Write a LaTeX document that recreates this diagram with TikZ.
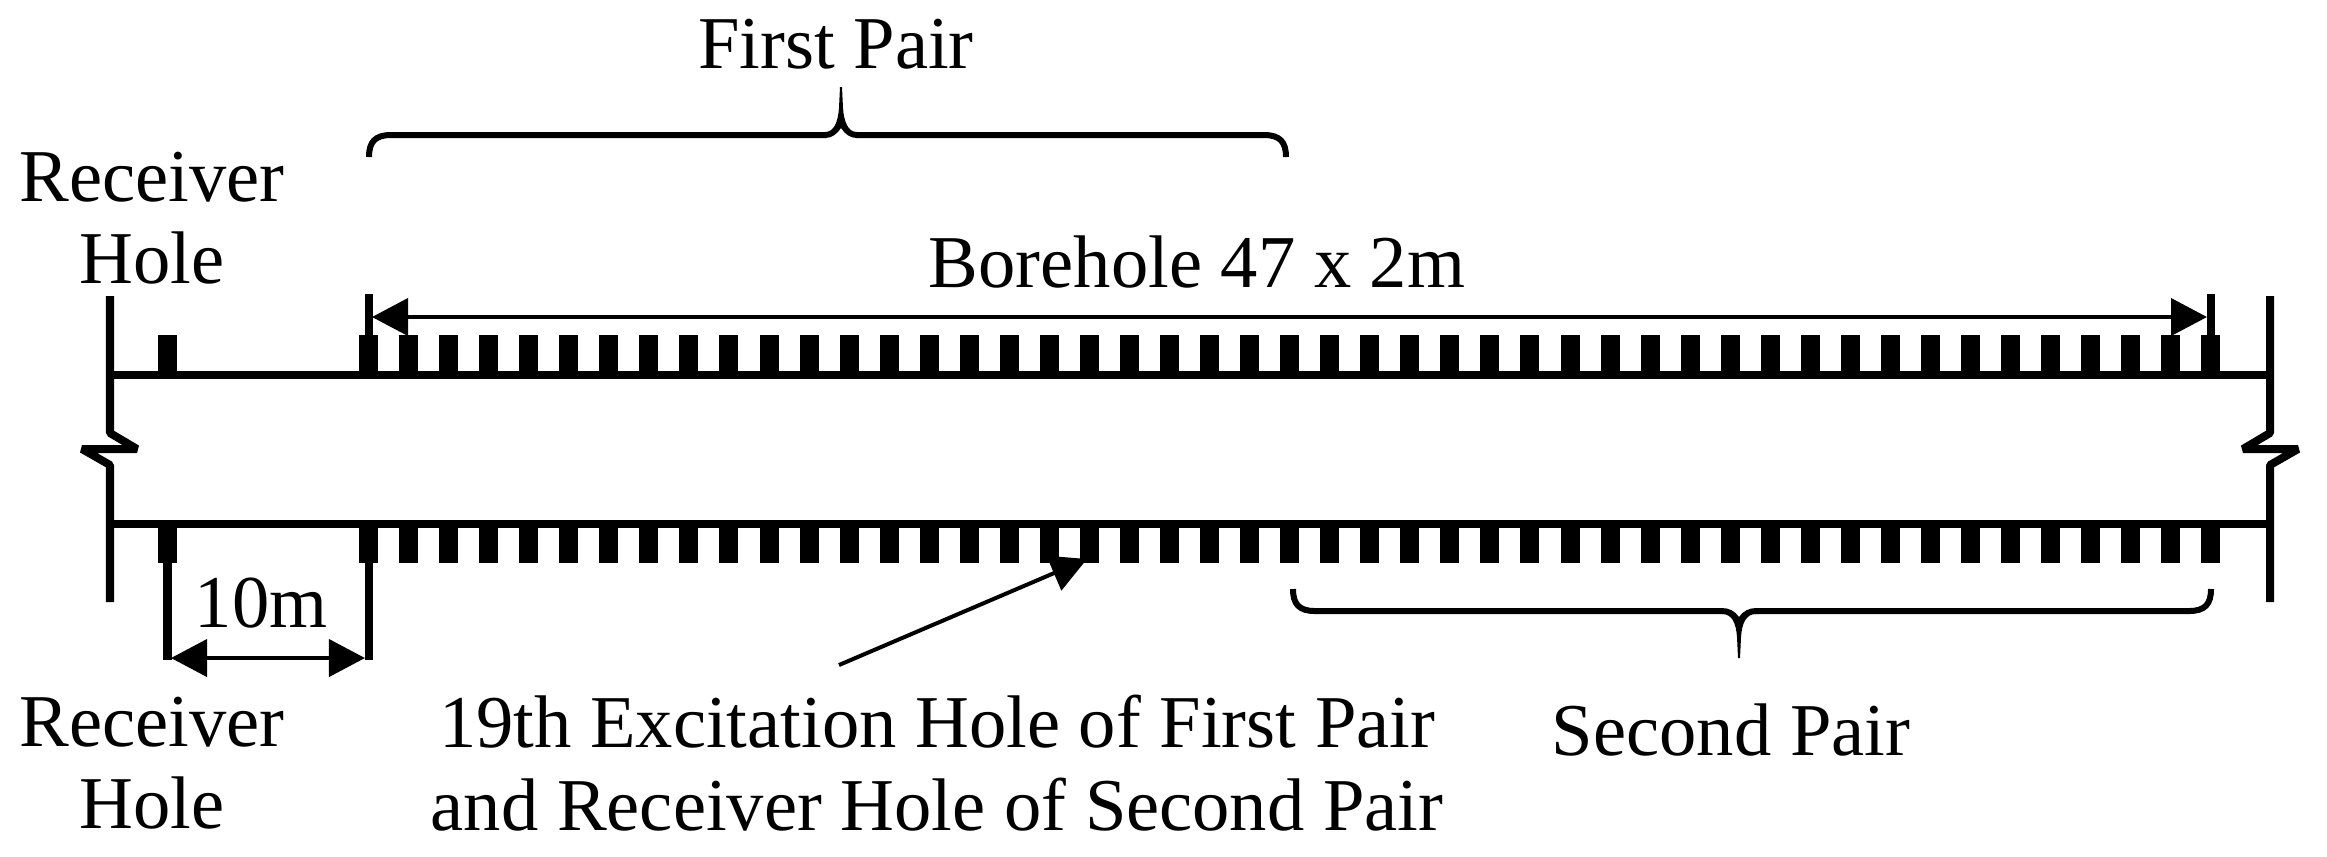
\documentclass[tikz,border=0pt]{standalone}
\usepackage{fontspec}
\setmainfont{Liberation Serif}
\usetikzlibrary{arrows.meta}
\tikzset{
  >={Triangle[length=0.36cm,width=0.37cm]},
  pipe/.style = {line width=0.08cm},
  tooth/.style = {line width=0.19cm},
  dimline/.style = {line width=0.04cm},
  curly/.style = {line width=0.06cm},
  label/.style = {align=center,inner sep=0pt,font=\fontsize{21.2}{23.4}\selectfont}
}

\begin{document}
\begin{tikzpicture}[x=0.01cm,y=-0.01cm]
  \useasboundingbox (0,0) rectangle (2327,856);
  % pipe walls and break lines
  \coordinate (LT) at (110,296);
  \coordinate (LA) at (110,375);
  \coordinate (LB) at (110,524);
  \coordinate (LE) at (110,602);
  \coordinate (RT) at (2270,296);
  \coordinate (RA) at (2270,375);
  \coordinate (RB) at (2270,524);
  \coordinate (RE) at (2270,602);
  \draw[pipe] (LA) -- (RA);
  \draw[pipe] (LB) -- (RB);
  \draw[pipe,line join=bevel] (LT) -- (110,433) -- (137,449) -- (82,449) -- (110,465) -- (LE);
  \draw[pipe,line join=bevel] (RT) -- (2270,433) -- (2243,449) -- (2298,449) -- (2270,465) -- (RE);
  % holes
  \draw[tooth] (167.5,335) -- (167.5,375);
  \draw[tooth] (167.5,524) -- (167.5,563);
  \foreach \i in {0,...,46} {
    \pgfmathsetmacro{\xx}{368.5+40.05*\i}
    \draw[tooth] (\xx,335) -- (\xx,375);
    \draw[tooth] (\xx,524) -- (\xx,563);
  }
  % borehole length
  \coordinate (BL) at (368.5,294);
  \coordinate (BR) at (2211,294);
  \draw[pipe] (BL) -- (368.5,340);
  \draw[pipe] (BR) -- (2211,340);
  \coordinate (BA) at (372,317);
  \coordinate (BB) at (2207,317);
  \draw[<->,dimline] (BA) -- (BB);
  % spacing
  \coordinate (SL) at (167.5,563);
  \coordinate (SR) at (368.5,563);
  \draw[pipe] (SL) -- (167.5,660);
  \draw[pipe] (SR) -- (368.5,660);
  \coordinate (SA) at (171,658);
  \coordinate (SB) at (365,658);
  \draw[<->,dimline] (SA) -- (SB);
  % excitation hole arrow
  \coordinate (HT) at (839,665);
  \coordinate (HH) at (1087,559);
  \draw[->,dimline] (HT) -- (HH);
  % first pair
  \draw[curly] (369,157) .. controls (369,142) and (375,135) .. (391,135) -- (826,135);
  \draw[curly] (856,135) -- (1264,135) .. controls (1280,135) and (1286,142) .. (1286,157);
  \fill (840,87) -- (842,87) -- (843,108) .. controls (844,122) and (848,132) .. (857,132) -- (857,138) .. controls (850,138) and (845,134) .. (841,128) .. controls (837,134) and (832,138) .. (825,138) -- (825,132) .. controls (834,132) and (838,122) .. (839,108) -- cycle;
  % second pair
  \draw[curly] (1293,589) .. controls (1293,604) and (1299,611) .. (1315,611) -- (1723,611);
  \draw[curly] (1755,611) -- (2189,611) .. controls (2205,611) and (2211,604) .. (2211,589);
  \fill (1738,658) -- (1740,658) -- (1741,637) .. controls (1742,623) and (1746,614) .. (1756,614) -- (1756,608) .. controls (1749,608) and (1743,611) .. (1739,617) .. controls (1735,611) and (1729,608) .. (1722,608) -- (1722,614) .. controls (1732,614) and (1736,623) .. (1737,637) -- cycle;
  % labels
  \node[label] (firstpair) at (836,44) {First Pair};
  \node[label] (rectop) at (152,218) {Receiver\\Hole};
  \node[label] (borehole) at (1197,262) {Borehole 47 x 2m};
  \node[label] (spacing) at (261,603) {10m};
  \node[label] (recbot) at (152,763) {Receiver\\Hole};
  \node[label] (excite) at (937,763) {19th Excitation Hole of First Pair\\and Receiver Hole of Second Pair};
  \node[label] (secondpair) at (1731,730) {Second Pair};
\end{tikzpicture}
\end{document}
